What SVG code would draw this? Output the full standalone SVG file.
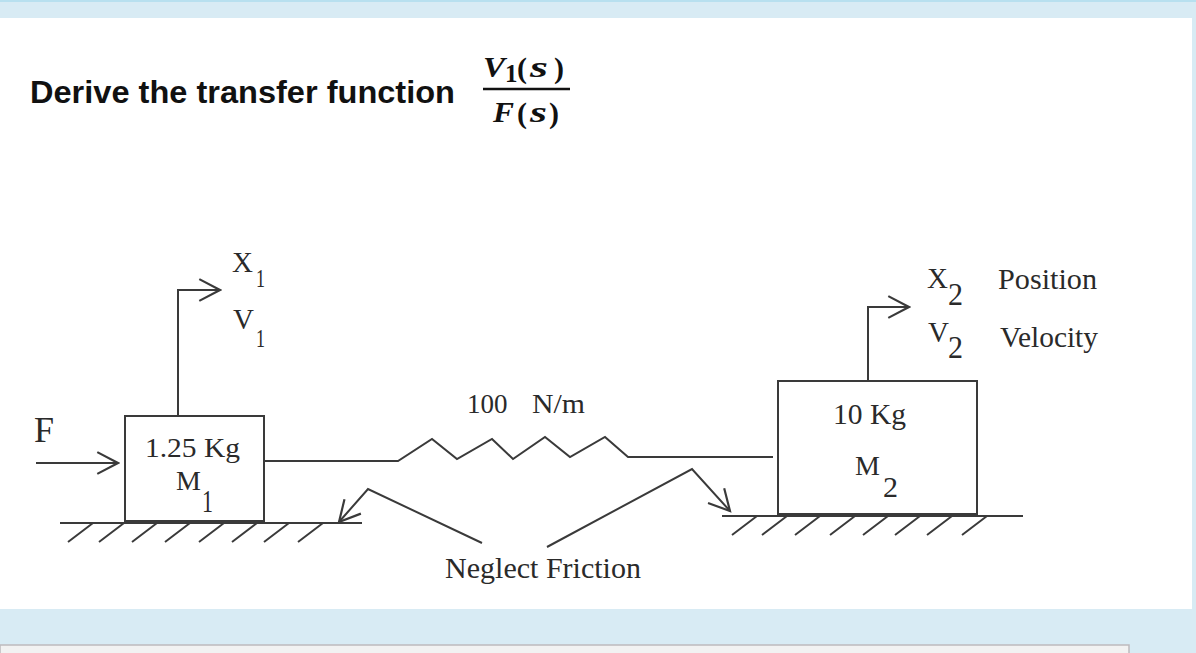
<svg xmlns="http://www.w3.org/2000/svg" width="1196" height="653" viewBox="0 0 1196 653">
<style>
.ln{fill:none;stroke:#3a3a3a;stroke-width:2;stroke-linejoin:miter;stroke-linecap:butt}
.bx{fill:#fff;stroke:#3a3a3a;stroke-width:2}
.t{font-family:"Liberation Serif","Times New Roman",serif;fill:#2a2a2a}
.m{font-family:"Liberation Serif","Times New Roman",serif;fill:#111;font-weight:bold}
.mi{font-family:"Liberation Serif","Times New Roman",serif;fill:#111;font-weight:bold;font-style:italic}
.ttl{font-family:"Liberation Sans",Arial,sans-serif;font-weight:bold;fill:#111}
</style>
<defs>
<marker id="ah" markerUnits="userSpaceOnUse" markerWidth="24" markerHeight="24" viewBox="0 0 22 22" refX="20" refY="11" orient="auto">
<path d="M1,1 L20,11 L1,21" fill="none" stroke="#3a3a3a" stroke-width="2"/>
</marker>
</defs>
<!-- page background -->
<rect x="0" y="0" width="1196" height="653" fill="#d8ebf4"/>
<rect x="0" y="0" width="1196" height="2" fill="#b8e0ef"/>
<rect x="0" y="18" width="1192" height="591" fill="#ffffff"/>
<rect x="0" y="645" width="1129" height="12" fill="#f2f2f2" stroke="#bdbabd" stroke-width="1.5"/>

<g id="title">
<text class="ttl" x="30" y="103" font-size="32" textLength="425" lengthAdjust="spacingAndGlyphs">Derive the transfer function</text>
<text class="mi" x="483" y="77" font-size="29" textLength="22" lengthAdjust="spacingAndGlyphs">V</text>
<text class="m" x="505" y="82" font-size="25">1</text>
<text class="m" x="517" y="78" font-size="30">(</text>
<text class="mi" x="530" y="77" font-size="30" textLength="18" lengthAdjust="spacingAndGlyphs">s</text>
<text class="m" x="554" y="78" font-size="30">)</text>
<line x1="483" y1="89" x2="570" y2="89" stroke="#111" stroke-width="2.5"/>
<text class="mi" x="493" y="122" font-size="29" textLength="21" lengthAdjust="spacingAndGlyphs">F</text>
<text class="m" x="517" y="123" font-size="30">(</text>
<text class="mi" x="530" y="122" font-size="30" textLength="17" lengthAdjust="spacingAndGlyphs">s</text>
<text class="m" x="549" y="123" font-size="30">)</text>
</g>

<g id="ground1">
<line class="ln" x1="60" y1="523" x2="362" y2="523"/>
<path class="ln" d="M68,542 L93,523 M99,542 L124,523 M132,542 L157,523 M165,542 L190,523 M199,542 L224,523 M232,542 L257,523 M264,542 L289,523 M298,542 L323,523"/>
</g>

<g id="ground2">
<line class="ln" x1="722" y1="516" x2="1023" y2="516"/>
<path class="ln" d="M732,535 L757,516 M762,535 L787,516 M795,535 L820,516 M830,535 L855,516 M863,535 L888,516 M895,535 L920,516 M927,535 L952,516 M962,535 L987,516"/>
</g>

<g id="mass1">
<rect class="bx" x="125" y="416" width="139" height="105"/>
<text class="t" x="145" y="457" font-size="27" textLength="95" lengthAdjust="spacingAndGlyphs">1.25 Kg</text>
<text class="t" x="176" y="490" font-size="28">M</text>
<text class="t" x="202" y="512" font-size="31" textLength="11" lengthAdjust="spacingAndGlyphs">1</text>
</g>

<g id="mass2">
<rect class="bx" x="778" y="381" width="199" height="133"/>
<text class="t" x="833" y="424" font-size="29" textLength="73" lengthAdjust="spacingAndGlyphs">10 Kg</text>
<text class="t" x="855" y="475" font-size="28">M</text>
<text class="t" x="883" y="497" font-size="30" textLength="15" lengthAdjust="spacingAndGlyphs">2</text>
</g>

<g id="spring">
<text class="t" x="467" y="413" font-size="27">100</text>
<text class="t" x="532" y="413" font-size="27" textLength="53" lengthAdjust="spacingAndGlyphs">N/m</text>
</g>

<g id="labels">
<text class="t" x="34" y="442" font-size="36">F</text>
<text class="t" x="232" y="272" font-size="29">X</text>
<text class="t" x="256" y="287" font-size="25" textLength="9" lengthAdjust="spacingAndGlyphs">1</text>
<text class="t" x="233" y="329" font-size="29">V</text>
<text class="t" x="256" y="347" font-size="25" textLength="9" lengthAdjust="spacingAndGlyphs">1</text>
<text class="t" x="927" y="288" font-size="29">X</text>
<text class="t" x="948" y="305" font-size="31" textLength="15" lengthAdjust="spacingAndGlyphs">2</text>
<text class="t" x="928" y="342" font-size="29">V</text>
<text class="t" x="948" y="358" font-size="31" textLength="15" lengthAdjust="spacingAndGlyphs">2</text>
<text class="t" x="998" y="289" font-size="29" textLength="99" lengthAdjust="spacingAndGlyphs">Position</text>
<text class="t" x="1000" y="347" font-size="29" textLength="98" lengthAdjust="spacingAndGlyphs">Velocity</text>
<text class="t" x="445" y="578" font-size="30" textLength="196" lengthAdjust="spacingAndGlyphs">Neglect Friction</text>
</g>

<g id="connectors">
<path class="ln" d="M36,463 L118,463" marker-end="url(#ah)"/>
<path class="ln" d="M178,416 L178,290 L220,290" marker-end="url(#ah)"/>
<path class="ln" d="M868,381 L868,307 L909,307" marker-end="url(#ah)"/>
<path class="ln" d="M264,461 L398,461 L432,439 L457,459 L492,439 L513,459 L545,437 L570,457 L605,437 L628,457 L773,457"/>
<path class="ln" d="M482,543 L368,489 L339,522" marker-end="url(#ah)"/>
<path class="ln" d="M547,547 L692,469 L730,511" marker-end="url(#ah)"/>
</g>
</svg>
